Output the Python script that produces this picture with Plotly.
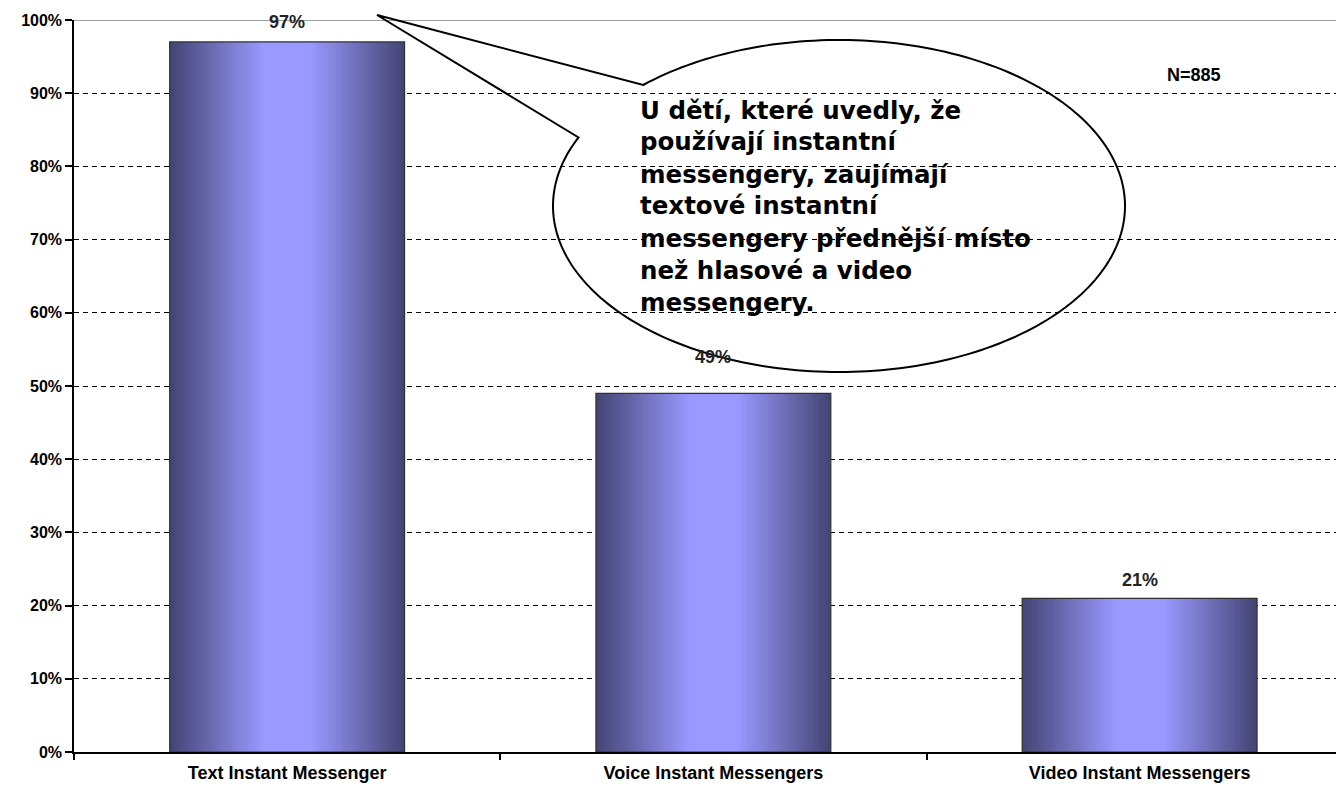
import numpy as np
import plotly.graph_objects as go

# ---------------- data ----------------
categories = ["Text Instant Messenger", "Voice Instant Messengers", "Video Instant Messengers"]
values = [97, 49, 21]
value_labels = ["97%", "49%", "21%"]
y_tick_values = [0, 10, 20, 30, 40, 50, 60, 70, 80, 90, 100]
y_tick_labels = ["0%", "10%", "20%", "30%", "40%", "50%", "60%", "70%", "80%", "90%", "100%"]
sample_note = "N=885"
callout_lines = [
    "U dětí, které uvedly, že",
    "používají instantní",
    "messengery, zaujímají",
    "textové instantní",
    "messengery přednější místo",
    "než hlasové a video",
    "messengery.",
]

# ---------------- layout geometry ----------------
W, H = 1336, 787
ML, MR, MT, MB = 74, 0, 20, 35
PW, PH = W - ML - MR, H - MT - MB


def px_to_paper(px, py):
    return (px - ML) / PW, (H - MB - py) / PH


ARIAL = "Arial, Liberation Sans, sans-serif"
VERDANA = "Verdana, DejaVu Sans, sans-serif"

fig = go.Figure()

# gradient bars: overlaid bars of decreasing width
bar_w = 0.551
edge_col = np.array([70, 70, 118])
light_col = np.array([153, 153, 255])
n_layers = 36
for k in range(n_layers):
    frac = 1 - k / n_layers
    s = np.clip((frac - 0.22) / 0.78, 0, 1)
    c = light_col + (edge_col - light_col) * s
    fig.add_trace(go.Bar(
        x=categories, y=values, width=bar_w * frac,
        marker=dict(color="rgb(%d,%d,%d)" % tuple(c.astype(int)), line=dict(width=0)),
        hoverinfo="skip", showlegend=False,
    ))
# outline
fig.add_trace(go.Bar(
    x=categories, y=values, width=bar_w,
    marker=dict(color="rgba(0,0,0,0)", line=dict(color="#303030", width=1.2)),
    showlegend=False,
))

# value labels
label_yshift = [20, 36, 18]
for cat, v, lab, ys in zip(categories, values, value_labels, label_yshift):
    fig.add_annotation(x=cat, y=v, text=lab, showarrow=False, yshift=ys,
                       xanchor="center", yanchor="middle",
                       font=dict(family=ARIAL, size=18, color="#222222", weight="bold"))

# top border line (100%)
fig.add_shape(type="line", xref="paper", yref="y", x0=0, x1=1, y0=100, y1=100,
              line=dict(color="#a0a0a0", width=2), layer="above")

# callout ellipse with tail
cx, cy, rx, ry = 839, 206, 286, 166
A = (640, 83)
B = (577, 137)
tip = (377, 15)
angA = np.arctan2((A[1] - cy) / ry, (A[0] - cx) / rx)
angB = np.arctan2((B[1] - cy) / ry, (B[0] - cx) / rx)
thetas = np.linspace(angA, angB + 2 * np.pi, 240)
pts = [px_to_paper(cx + rx * np.cos(t), cy + ry * np.sin(t)) for t in thetas]
pts.append(px_to_paper(*tip))
path = "M " + " L ".join("%.5f,%.5f" % p for p in pts) + " Z"
fig.add_shape(type="path", xref="paper", yref="paper", path=path,
              line=dict(color="black", width=2), fillcolor="rgba(0,0,0,0)", layer="above")

# callout text
for i, line in enumerate(callout_lines):
    xp, yp = px_to_paper(638, 110 + i * 32)
    fig.add_annotation(xref="paper", yref="paper", x=xp, y=yp, text=line, showarrow=False,
                       xanchor="left", yanchor="middle",
                       font=dict(family=VERDANA, size=24.5, color="black", weight="bold"))

# N note
xp, yp = px_to_paper(1194, 75)
fig.add_annotation(xref="paper", yref="paper", x=xp, y=yp, text=sample_note, showarrow=False,
                   xanchor="center", yanchor="middle",
                   font=dict(family=ARIAL, size=18, color="black", weight="bold"))

fig.update_layout(
    width=W, height=H,
    margin=dict(l=ML, r=MR, t=MT, b=MB, pad=0),
    paper_bgcolor="white", plot_bgcolor="white",
    barmode="overlay",
    showlegend=False,
    xaxis=dict(
        type="category", range=[-0.5, -0.5 + PW / 426.25],
        showline=True, linecolor="black", linewidth=1.5,
        ticks="outside", tickson="boundaries", ticklen=6, tickcolor="black", tickwidth=1.5,
        showgrid=False, zeroline=False, automargin=False,
        ticklabelstandoff=4,
        tickfont=dict(family=ARIAL, size=18, color="black", weight="bold"),
    ),
    yaxis=dict(
        range=[0, 100], tickvals=y_tick_values, ticktext=y_tick_labels,
        showline=True, linecolor="black", linewidth=1.5,
        ticks="outside", ticklen=7, tickcolor="black", tickwidth=1.5,
        showgrid=True, gridcolor="black", gridwidth=1, griddash="5px,4px",
        zeroline=False, automargin=False,
        tickfont=dict(family=ARIAL, size=16, color="black", weight="bold"),
    ),
)

fig.write_html(
    "out.html",
    config={"displayModeBar": False},
    post_script="document.body.style.margin='0';document.body.style.overflow='hidden';",
)
